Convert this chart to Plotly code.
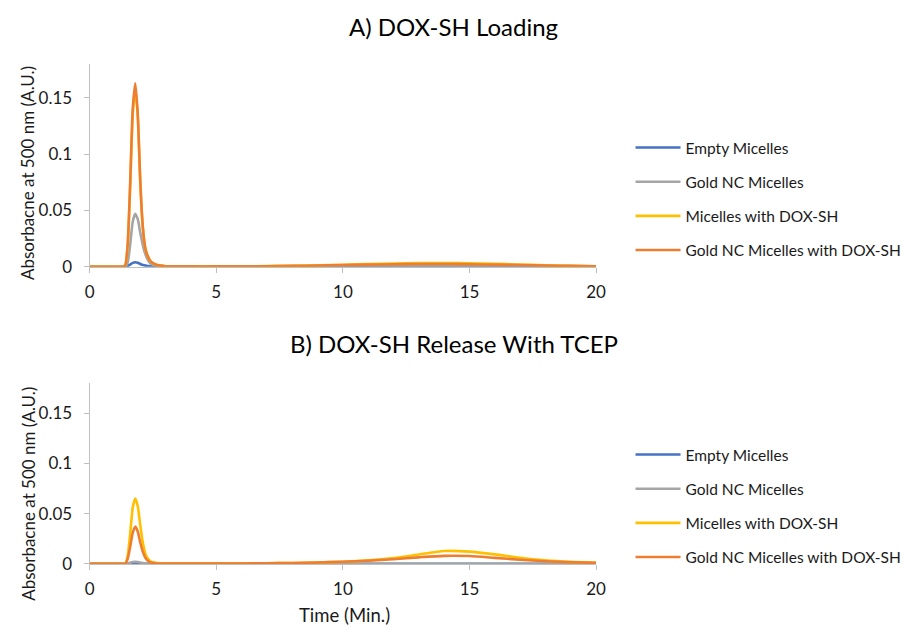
import plotly.graph_objects as go

time_min = [0, 1.0, 1.3, 1.4, 1.5, 1.6, 1.7, 1.8, 1.9, 2.0, 2.1, 2.2, 2.3, 2.4, 2.6, 2.8, 3.0,
            4, 5, 6, 7, 8, 9, 10, 11, 12, 13, 14, 15, 16, 17, 18, 19, 20]

series_names = ["Empty Micelles", "Gold NC Micelles", "Micelles with DOX-SH", "Gold NC Micelles with DOX-SH"]
colors = ["#4472C4", "#A5A5A5", "#FFC000", "#ED7D31"]

# Panel A: DOX-SH Loading
a_empty = [0, 0, 0, 0, 0.0005, 0.002, 0.0035, 0.004, 0.0035, 0.0025, 0.0016, 0.001, 0.0006, 0.0004, 0.0001, 0, 0,
           0, 0, 0, 0, 0, 0, 0, 0, 0, 0, 0, 0, 0, 0, 0, 0, 0]
a_gold = [0, 0, 0, 0, 0.004, 0.02, 0.04, 0.047, 0.042, 0.03, 0.019, 0.011, 0.006, 0.003, 0.001, 0.0005, 0.0002,
          0.0001, 0.0001, 0.0002, 0.0002, 0.0003, 0.0004, 0.0005, 0.0006, 0.0007, 0.0007, 0.0007, 0.0006, 0.0005,
          0.0004, 0.0003, 0.0002, 0.0001]
a_dox = [0, 0, 0, 0.001, 0.019, 0.072, 0.135, 0.158, 0.132, 0.073, 0.034, 0.016, 0.009, 0.005, 0.002, 0.001, 0.0005,
         0.0003, 0.0003, 0.0004, 0.0006, 0.0009, 0.0013, 0.0018, 0.0024, 0.0029, 0.0032, 0.0033, 0.0031, 0.0026,
         0.002, 0.0014, 0.0009, 0.0005]
a_gold_dox = [0, 0, 0, 0.001, 0.02, 0.075, 0.14, 0.163, 0.135, 0.075, 0.035, 0.016, 0.009, 0.005, 0.002, 0.001, 0.0005,
              0.0003, 0.0003, 0.0004, 0.0005, 0.0008, 0.0011, 0.0015, 0.0019, 0.0022, 0.0024, 0.0024, 0.0022, 0.0019,
              0.0015, 0.0011, 0.0008, 0.0005]

# Panel B: DOX-SH Release With TCEP
b_empty = [0, 0, 0, 0, 0.0002, 0.0005, 0.0008, 0.001, 0.0008, 0.0005, 0.0003, 0.0002, 0.0001, 0, 0, 0, 0,
           0, 0, 0, 0, 0, 0, 0, 0, 0, 0, 0, 0, 0, 0, 0, 0, 0]
b_gold = [0, 0, 0, 0, 0.0005, 0.0012, 0.0018, 0.002, 0.0018, 0.0013, 0.0008, 0.0005, 0.0003, 0.0002, 0.0001, 0, 0,
          0.0001, 0.0001, 0.0001, 0.0001, 0.0001, 0.0002, 0.0002, 0.0002, 0.0002, 0.0002, 0.0002, 0.0002, 0.0002,
          0.0001, 0.0001, 0.0001, 0.0001]
b_dox = [0, 0, 0, 0, 0.008, 0.03, 0.056, 0.065, 0.057, 0.038, 0.021, 0.01, 0.005, 0.0025, 0.001, 0.0005, 0.0003,
         0.0003, 0.0003, 0.0004, 0.0006, 0.0009, 0.0014, 0.0022, 0.0035, 0.0058, 0.0093, 0.0128, 0.0122, 0.0095,
         0.006, 0.0035, 0.002, 0.0012]
b_gold_dox = [0, 0, 0, 0, 0.005, 0.017, 0.031, 0.037, 0.032, 0.021, 0.012, 0.006, 0.003, 0.0015, 0.0007, 0.0004, 0.0003,
              0.0003, 0.0003, 0.0004, 0.0006, 0.0009, 0.0014, 0.0021, 0.0031, 0.0046, 0.0065, 0.008, 0.0078, 0.006,
              0.0041, 0.0026, 0.0016, 0.001]

x_ticks = [0, 5, 10, 15, 20]
y_ticks = [0, 0.05, 0.1, 0.15]

FONT = "Lato"
TXT = "#1a1a1a"
fig = go.Figure()

for i, ys in enumerate([a_empty, a_gold, a_dox, a_gold_dox]):
    fig.add_trace(go.Scatter(x=time_min, y=ys, mode="lines", name=series_names[i],
                             line=dict(color=colors[i], width=2.6, shape="spline", smoothing=0.6),
                             xaxis="x", yaxis="y", legend="legend", legendgroup="a%d" % i))
for i, ys in enumerate([b_empty, b_gold, b_dox, b_gold_dox]):
    fig.add_trace(go.Scatter(x=time_min, y=ys, mode="lines", name=series_names[i],
                             line=dict(color=colors[i], width=2.6, shape="spline", smoothing=0.6),
                             xaxis="x2", yaxis="y2", legend="legend2", legendgroup="b%d" % i))

# page body has an 8px margin; size the figure so the whole page fits the 915x636 window
W, H = 899, 620
OFF = 8


def px(x):
    return (x - OFF) / W


def py(y):
    return 1 - (y - OFF) / H


xd = [px(86), px(601)]
ya = [py(271), py(65)]
yb = [py(573), py(389)]

axis_common = dict(showgrid=False, zeroline=False, showline=True, linecolor="#BFBFBF", linewidth=1.3,
                   ticks="outside", tickcolor="#BFBFBF", ticklen=5, tickfont=dict(family=FONT, size=17, color=TXT))
x_axis = dict(domain=xd, range=[0, 20], tickvals=x_ticks, ticklabelstandoff=5, **axis_common)
y_axis = dict(range=[0, 0.18], tickvals=y_ticks, ticklabelstandoff=8, **axis_common)

legend_common = dict(x=px(636), xanchor="left", yanchor="top", bgcolor="rgba(0,0,0,0)",
                     font=dict(family=FONT, size=15.5, color=TXT), tracegroupgap=11,
                     itemwidth=45)


def ann(text, x, y, size, angle=0):
    return dict(text=text, x=px(x), y=py(y), xref="paper", yref="paper", xanchor="center",
                yanchor="middle", textangle=angle, showarrow=False,
                font=dict(family=FONT, size=size, color="#000" if size > 20 else TXT))


fig.update_layout(
    width=W, height=H, margin=dict(l=0, r=0, t=0, b=0),
    paper_bgcolor="white", plot_bgcolor="white",
    xaxis=dict(anchor="y", **x_axis),
    yaxis=dict(domain=ya, anchor="x", **y_axis),
    xaxis2=dict(anchor="y2", **x_axis),
    yaxis2=dict(domain=yb, anchor="x2", **y_axis),
    legend=dict(y=py(133), **legend_common),
    legend2=dict(y=py(445), **legend_common),
    showlegend=True,
    annotations=[
        ann("A) DOX-SH Loading", 456, 27, 24),
        ann("B) DOX-SH Release With TCEP", 456, 349, 24),
        ann("Absorbacne at 500 nm (A.U.)", 23, 176, 17, -90),
        ann("Absorbacne at 500 nm (A.U.)", 23, 502, 17, -90),
        ann("Time (Min.)", 345, 625, 18.5),
    ],
)

fig.write_html("out.html")
